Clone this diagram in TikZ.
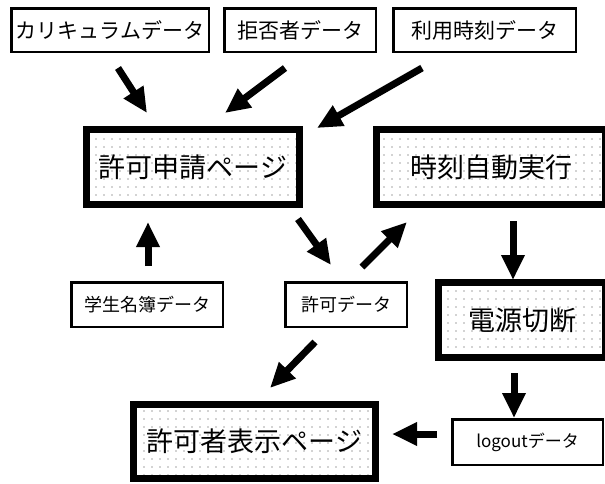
\documentclass[tikz,border=0pt]{standalone}
\usepackage{fontspec}
\setmainfont{Noto Sans CJK JP}
\usetikzlibrary{arrows.meta,patterns.meta}
\tikzset{
  databox/.style={draw=black, line width=2.5pt, fill=white, inner sep=0pt, font=\fontsize{21pt}{21pt}\selectfont},
  procbox/.style={draw=black, line width=7pt, inner sep=0pt, minimum height=75pt,
    pattern={Dots[distance=8pt,radius=0.55pt]}, pattern color=black!75,
    font=\fontsize{27pt}{27pt}\selectfont},
  bigarrow/.style={line width=7pt, line cap=butt, -{Triangle[length=25pt,width=22pt]}},
}
\begin{document}
\begin{tikzpicture}[x=1pt,y=-1pt]
\useasboundingbox (0,0) rectangle (605,483);
% data boxes
\node[databox, minimum width=197.5pt, minimum height=43.5pt] (cur) at (110,30) {カリキュラムデータ};
\node[databox, minimum width=151.5pt, minimum height=43.5pt] (rej) at (300,30) {拒否者データ};
\node[databox, minimum width=182.5pt, minimum height=43.5pt] (use) at (484.5,30) {利用時刻データ};
\node[databox, minimum width=151.5pt, minimum height=44.5pt, font=\fontsize{18pt}{18pt}\selectfont] (stu) at (147,304.5) {学生名簿データ};
\node[databox, minimum width=121.5pt, minimum height=44.5pt, font=\fontsize{18pt}{18pt}\selectfont] (perm) at (346,304.5) {許可データ};
\node[databox, minimum width=150.5pt, minimum height=45.5pt, font=\fontsize{17pt}{17pt}\selectfont] (logout) at (527.5,442) {logoutデータ};
% process boxes
\node[procbox, minimum width=213pt] (req) at (193,167) {許可申請ページ};
\node[procbox, minimum width=229pt] (auto) at (491,167) {時刻自動実行};
\node[procbox, minimum width=167pt] (pwr) at (522,320) {電源切断};
\node[procbox, minimum width=242pt, minimum height=74pt] (disp) at (254.5,441.5) {許可者表示ページ};
% arrow end points
\coordinate (a1s) at (118,68);  \coordinate (a1e) at (147,113);
\coordinate (a2s) at (285,68);  \coordinate (a2e) at (225,113);
\coordinate (a3s) at (422,68);  \coordinate (a3e) at (317,128);
\coordinate (a4s) at (148,266); \coordinate (a4e) at (148,222);
\coordinate (a5s) at (298,219); \coordinate (a5e) at (331,265);
\coordinate (a6s) at (362,267); \coordinate (a6e) at (407,222);
\coordinate (a7s) at (513,221); \coordinate (a7e) at (513,280);
\coordinate (a8s) at (315,342); \coordinate (a8e) at (270,388);
\coordinate (a9s) at (514,373); \coordinate (a9e) at (514,418);
\coordinate (a10s) at (437,434); \coordinate (a10e) at (392,434);
\foreach \i in {1,...,10} { \draw[bigarrow] (a\i s) -- (a\i e); }
\end{tikzpicture}
\end{document}
